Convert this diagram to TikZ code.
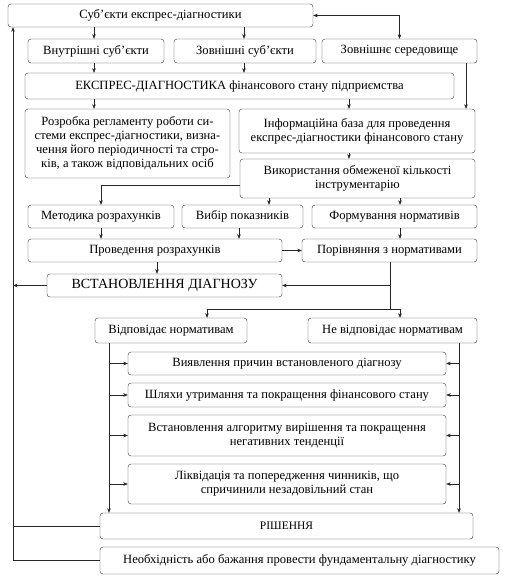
\documentclass[tikz,border=0pt]{standalone}
\usepackage{fontspec}
\setmainfont{Liberation Serif}
\usetikzlibrary{arrows.meta}

\begin{document}
\begin{tikzpicture}[
  x=1pt, y=-1pt,
  box/.style={draw=black!80, rounded corners=3pt, inner sep=1pt, align=center,
    font=\fontsize{12.6}{14}\selectfont, text=black},
  arr/.style={draw=black!85, -{Stealth[length=4.5pt,width=3.5pt]}},
  ln/.style={draw=black!85}
]
  \useasboundingbox (0,0) rectangle (510,578);

  % Blocks
  \node[box, minimum width=305, minimum height=23] (subj) at (160.5,15.5) {Суб'єкти експрес-діагностики};
  \node[box, minimum width=136, minimum height=24] (vnutr) at (96,51) {Внутрішні суб'єкти};
  \node[box, minimum width=142, minimum height=24] (zovn) at (245,51) {Зовнішні суб'єкти};
  \node[box, minimum width=155, minimum height=24] (sered) at (399.5,51) {Зовнішнє середовище};
  \node[box, minimum width=429, minimum height=26] (ekspres) at (239.5,86) {ЕКСПРЕС-ДІАГНОСТИКА фінансового стану підприємства};
  \node[box, minimum width=205, minimum height=69] (rozrob) at (127.5,143.5) {Розробка регламенту роботи си-\\стеми експрес-діагностики, визна-\\чення його періодичності та стро-\\ків, а також відповідальних осіб};
  \node[box, minimum width=236, minimum height=44] (infobaza) at (357,131) {Інформаційна база для проведення\\експрес-діагностики фінансового стану};
  \node[box, minimum width=235, minimum height=39] (vykor) at (357.5,178.5) {Використання обмеженої кількості\\інструментарію};
  \node[box, minimum width=146, minimum height=23] (metod) at (101,216.5) {Методика розрахунків};
  \node[box, minimum width=121, minimum height=23] (vybir) at (242.5,216.5) {Вибір показників};
  \node[box, minimum width=165, minimum height=23] (formuv) at (394.5,216.5) {Формування нормативів};
  \node[box, minimum width=254, minimum height=23] (proved) at (155,250.5) {Проведення розрахунків};
  \node[box, minimum width=175, minimum height=23] (porivn) at (389.5,250.5) {Порівняння з нормативами};
  \node[box, minimum width=235, minimum height=23, font=\fontsize{14}{15}\selectfont] (diagn) at (164.5,285.5) {ВСТАНОВЛЕННЯ ДІАГНОЗУ};
  \node[box, minimum width=152, minimum height=25] (vidpov) at (171,330.5) {Відповідає нормативам};
  \node[box, minimum width=169, minimum height=25] (nevidp) at (392.5,330.5) {Не відповідає нормативам};
  \node[box, minimum width=318, minimum height=23] (vyyavl) at (287,363.5) {Виявлення причин встановленого діагнозу};
  \node[box, minimum width=318, minimum height=24] (shlyakh) at (287,395) {Шляхи утримання та покращення фінансового стану};
  \node[box, minimum width=318, minimum height=41] (alhor) at (287,435.5) {Встановлення алгоритму вирішення та покращення\\негативних тенденції};
  \node[box, minimum width=318, minimum height=40] (likvid) at (287,484) {Ліквідація та попередження чинників, що\\спричинили незадовільний стан};
  \node[box, minimum width=373, minimum height=26, font=\fontsize{11.5}{13}\selectfont] (rishen) at (286.5,526) {РІШЕННЯ};
  \node[box, minimum width=399, minimum height=27] (neobkh) at (299.5,560.5) {Необхідність або бажання провести фундаментальну діагностику};

  % Columns of the connectors
  \coordinate (rail) at (13,0);
  \coordinate (colA) at (94,0);
  \coordinate (colB) at (244,0);
  \coordinate (colC) at (349,0);
  \coordinate (colD) at (466,0);
  \coordinate (colE) at (101,0);
  \coordinate (colF) at (269,0);
  \coordinate (colG) at (400,0);
  \coordinate (colH) at (239,0);
  \coordinate (colI) at (157,0);
  \coordinate (colJ) at (390,0);
  \coordinate (colK) at (207,0);
  \coordinate (colL) at (109,0);
  \coordinate (colM) at (459,0);
  \coordinate (split) at (390,309);

  % Connectors
  \draw[arr, {Stealth[length=4.5pt,width=3.5pt]}-{Stealth[length=4.5pt,width=3.5pt]}] (subj.east) -| (sered.north);
  \draw[arr] (colA |- subj.south) -- (colA |- vnutr.north);
  \draw[arr] (colB |- subj.south) -- (colB |- zovn.north);
  \draw[arr] (colA |- vnutr.south) -- (colA |- ekspres.north);
  \draw[arr] (colB |- zovn.south) -- (colB |- ekspres.north);
  \draw[arr] (colD |- sered.south) -- (colD |- infobaza.north);
  \draw[arr] (colA |- ekspres.south) -- (colA |- rozrob.north);
  \draw[arr] (colC |- ekspres.south) -- (colC |- infobaza.north);
  \draw[arr] (colC |- infobaza.south) -- (colC |- vykor.north);
  \draw[arr] ([yshift=-7pt]vykor.west) -| (colE |- metod.north);
  \draw[arr] (colF |- vykor.south) -- (colF |- vybir.north);
  \draw[arr] (colG |- vykor.south) -- (colG |- formuv.north);
  \draw[arr] (colE |- metod.south) -- (colE |- proved.north);
  \draw[arr] (colH |- vybir.south) -- (colH |- proved.north);
  \draw[arr] (colG |- formuv.south) -- (colG |- porivn.north);
  \draw[arr] (proved.east) -- (porivn.west);
  \draw[arr] (colI |- proved.south) -- (colI |- diagn.north);
  \draw[arr] (colJ |- porivn.south) |- (diagn.east);
  \draw[ln] (colJ |- diagn.east) -- (split);
  \draw[arr] (split) -| (colK |- vidpov.north);
  \draw[arr] (split) -| (colG |- nevidp.north);
  \draw[arr] (diagn.west) -- (rail |- diagn.west);
  \draw[arr] (neobkh.west) -| (rail |- subj.south);
  \draw[ln] (rishen.west) -- (rail |- rishen.west);

  % Left and right branches
  \draw[arr] (colL |- vidpov.south) -- (colL |- rishen.north);
  \draw[arr] (colM |- nevidp.south) -- (colM |- rishen.north);
  \foreach \n in {vyyavl, shlyakh, alhor, likvid} {
    \draw[arr] (colL |- \n.west) -- (\n.west);
    \draw[arr] (colM |- \n.east) -- (\n.east);
  }
\end{tikzpicture}
\end{document}
